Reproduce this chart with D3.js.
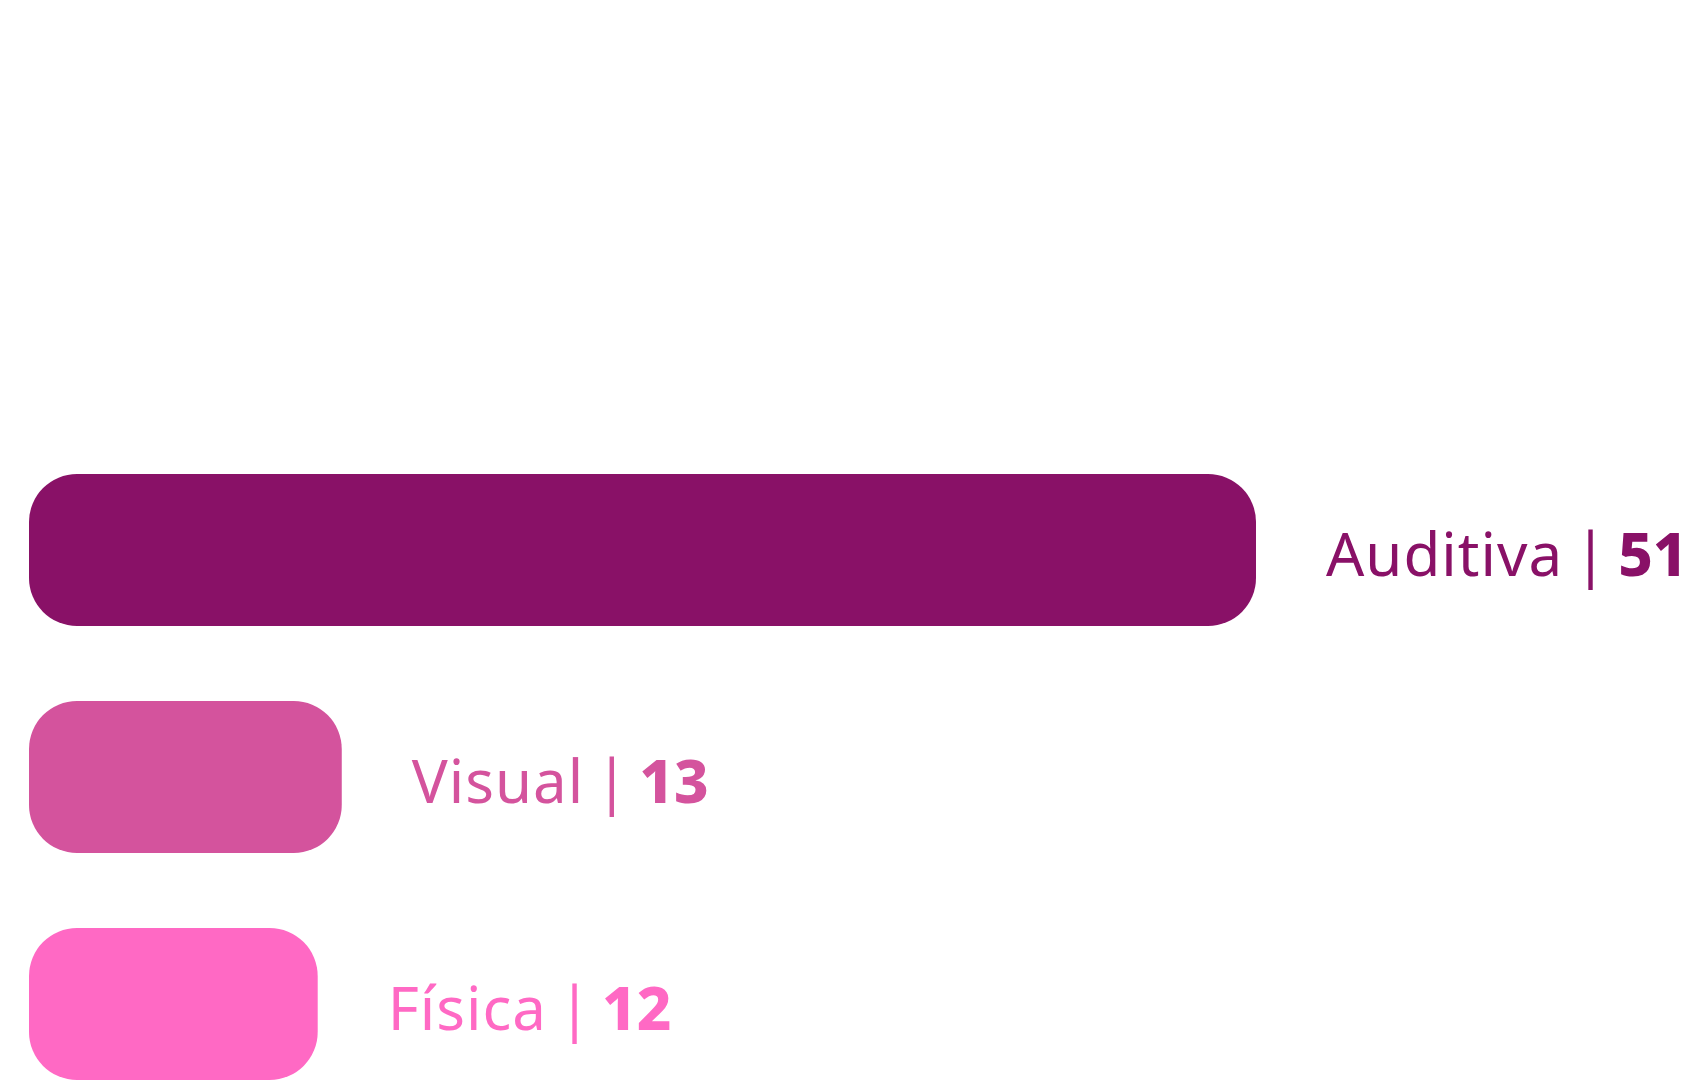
<!DOCTYPE html>
<html lang="es">
<head>
<meta charset="utf-8">
<script src="https://cdn.jsdelivr.net/npm/d3@7"></script>
<style>
  html, body { margin: 0; padding: 0; background: #ffffff; }
  svg { display: block; }
</style>
</head>
<body>
<svg id="chart" width="1700" height="1080"></svg>
<script>
// Discapacidad por tipo
const categories = ["Auditiva", "Visual", "Física"];
const values = [51, 13, 12];
const colors = ["#891167", "#D4539D", "#FF69C4"];

const width = 1700, height = 1080;
const svg = d3.select("#chart");

const rows = categories.map((c, i) => ({ name: c, value: values[i], color: colors[i] }));

const x = d3.scaleLinear()
  .domain([0, d3.max(values)])
  .range([29, 1256]);

const y = d3.scaleBand()
  .domain(categories)
  .range([474, 1080])
  .paddingInner(75 / 227)
  .paddingOuter(0);

const radius = 48;

svg.selectAll("rect.bar")
  .data(rows)
  .join("rect")
  .attr("class", "bar")
  .attr("x", x(0))
  .attr("y", d => y(d.name))
  .attr("width", d => x(d.value) - x(0))
  .attr("height", y.bandwidth())
  .attr("rx", radius)
  .attr("ry", radius)
  .attr("fill", d => d.color);

// value labels: "Nombre | valor", value in heavy weight
const labelGap = 70;
const labels = svg.selectAll("text.label")
  .data(rows)
  .join("text")
  .attr("class", "label")
  .attr("x", d => x(d.value) + labelGap)
  .attr("y", d => y(d.name) + y.bandwidth() / 2 + 26)
  .attr("fill", d => d.color)
  .attr("font-family", "'Noto Sans', 'Open Sans', sans-serif")
  .attr("font-size", 60);

labels.append("tspan")
  .attr("font-weight", 400)
  .attr("letter-spacing", 1)
  .text(d => d.name);
labels.append("tspan")
  .attr("font-weight", 400)
  .attr("dx", 11)
  .text("|");
labels.append("tspan")
  .attr("font-weight", 800)
  .attr("dx", 11)
  .text(d => d.value);
</script>
</body>
</html>
